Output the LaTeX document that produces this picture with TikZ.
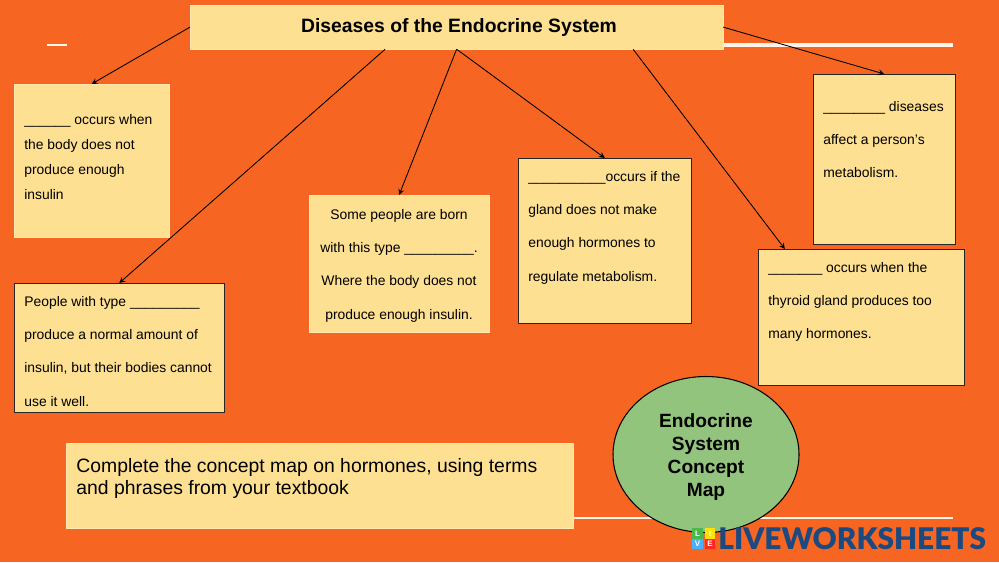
\documentclass[tikz,border=0pt]{standalone}
\usepackage{fontspec}
\setmainfont{Liberation Sans}
\newfontfamily\logofont{Lato Black}
\usepackage{tikz}
\usetikzlibrary{arrows}
\usetikzlibrary{calc}
\usetikzlibrary{shapes.geometric}
\definecolor{bgorange}{HTML}{F76523}
\definecolor{boxyellow}{HTML}{FEE093}
\definecolor{ovalgreen}{HTML}{93C47D}
\definecolor{logoblue}{HTML}{1C4A80}
\tikzset{
    plainbox/.style={fill=boxyellow, draw=boxyellow!70!white, line width=0.4pt, inner sep=0, anchor=north west},
    darkbox/.style={fill=boxyellow, draw=black!85, line width=0.6pt, inner sep=0, anchor=north west},
    wide/.style={font=\fontsize{7.9}{14.2}\selectfont, align=left, anchor=north west, inner sep=0},
    tall/.style={font=\fontsize{7.9}{18.9}\selectfont, align=left, anchor=north west, inner sep=0},
    link/.style={->, >=stealth, line width=0.5pt, black},
    rulewhite/.style={white!92!orange, line width=1.3pt},
    tile/.style={minimum size=6pt, inner sep=0, text=white, font=\fontsize{4.5}{5}\bfseries\selectfont}
}
\begin{document}
\begin{tikzpicture}[x=0.02cm, y=-0.02cm]
        \fill[bgorange] (0, 0) rectangle (999, 562);
        \useasboundingbox (0, 0) rectangle (999, 562);

        \coordinate (tickL) at (47, 45);
        \coordinate (tickR) at (67, 45);
        \coordinate (ruleA) at (723, 45);
        \coordinate (ruleB) at (953, 45);
        \coordinate (ruleC) at (573, 518);
        \coordinate (ruleD) at (953, 518);
        \foreach \a/\b/\w in {tickL/tickR/1.1pt, ruleA/ruleB/2pt, ruleC/ruleD/1.5pt}
        {
            \draw[rulewhite, line width=\w] (\a) -- (\b);
        }

        \node[plainbox, minimum width=532.5*0.02cm, minimum height=43.5*0.02cm] (title) at (190, 5) {};
        \node[font=\fontsize{11}{12}\bfseries\selectfont, inner sep=0] (titletext) at (459, 27.5) {Diseases of the Endocrine System};
        \node[plainbox, minimum width=154.5*0.02cm, minimum height=153*0.02cm] (lowbox) at (14, 84) {};
        \node[darkbox, minimum width=209.5*0.02cm, minimum height=128.5*0.02cm] (typebox) at (14, 283) {};
        \node[plainbox, minimum width=179.5*0.02cm, minimum height=136.5*0.02cm] (bornbox) at (309, 195) {};
        \node[darkbox, minimum width=172.5*0.02cm, minimum height=164.5*0.02cm] (glandbox) at (518, 158) {};
        \node[darkbox, minimum width=141.5*0.02cm, minimum height=169.5*0.02cm] (metabox) at (813, 74) {};
        \node[darkbox, minimum width=205.5*0.02cm, minimum height=135.5*0.02cm] (hyperbox) at (758, 249) {};
        \node[plainbox, minimum width=506.5*0.02cm, minimum height=84.5*0.02cm] (taskbox) at (66, 443) {};

        \node[wide] (lowtext) at (24, 114.5) {\_\_\_\_\_\_ occurs when\\the body does not\\produce enough\\insulin};
        \node[tall] (typetext) at (24, 296) {People with type \_\_\_\_\_\_\_\_\_\\produce a normal amount of\\insulin, but their bodies cannot\\use it well.};
        \node[tall, align=center, anchor=north] (borntext) at (399, 209) {Some people are born\\with this type \_\_\_\_\_\_\_\_\_.\\Where the body does not\\produce enough insulin.};
        \node[tall] (glandtext) at (528, 171) {\_\_\_\_\_\_\_\_\_\_occurs if the\\gland does not make\\enough hormones to\\regulate metabolism.};
        \node[tall] (metatext) at (823, 101) {\_\_\_\_\_\_\_\_ diseases\\affect a person's\\metabolism.};
        \node[tall] (hypertext) at (768, 262) {\_\_\_\_\_\_\_ occurs when the\\thyroid gland produces too\\many hormones.};
        \node[font=\fontsize{11.03}{12.8}\selectfont, align=left, anchor=north west, inner sep=0] (tasktext) at (76, 458) {Complete the concept map on hormones, using terms\\and phrases from your textbook};

        \node[ellipse, draw=black, line width=0.6pt, fill=ovalgreen, minimum width=186*0.02cm, minimum height=156*0.02cm, inner sep=0] (oval) at (706, 454.5) {};
        \node[align=center, inner sep=0, font=\fontsize{10.9}{13.1}\bfseries\selectfont] (ovaltext) at (706, 457.5) {Endocrine\\System\\Concept\\Map};

        \coordinate (startA) at ($(title.south west)!0.366!(title.south east)$);
        \coordinate (startB) at ($(title.south west)!0.831!(title.south east)$);
        \coordinate (endA) at ($(hyperbox.north west)!0.13!(hyperbox.north east)$);
        \foreach \a/\b in {title.west/lowbox.north, startA/typebox.north, title.south/bornbox.north, title.south/glandbox.north, startB/endA, title.east/metabox.north}
        {
            \draw[link] (\a) -- (\b);
        }

        \node[tile, fill=green!60!black!70] (tileL) at (697.5, 533.5) {L};
        \node[tile, fill=yellow!85!orange] (tileI) at (710, 533.5) {I};
        \node[tile, fill=blue!45!cyan!70] (tileV) at (697.5, 544) {V};
        \node[tile, fill=red!80!pink] (tileE) at (710, 544) {E};
        \node[logoblue, anchor=west, inner sep=0, font=\logofont\fontsize{16.95}{20}\selectfont] (logo) at (718, 538.5) {LIVEWORKSHEETS};
    \end{tikzpicture}
\end{document}
